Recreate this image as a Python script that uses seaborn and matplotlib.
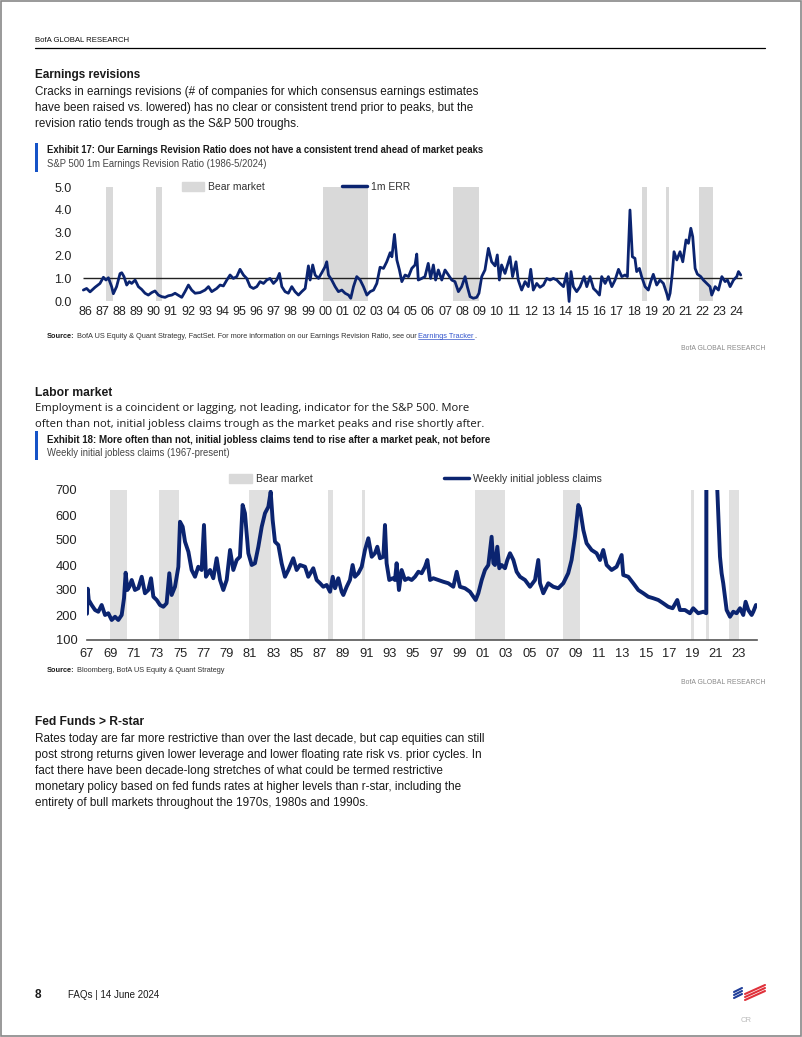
import pandas as pd
import matplotlib
matplotlib.use("Agg")
import matplotlib.pyplot as plt
from matplotlib.lines import Line2D
from matplotlib.patches import Patch, Rectangle
import seaborn as sns

W, H = 802, 1037
NAVY = "#0B2470"
BAND = "#d9d9d9"
TXT = "#1a1a1a"
NARROW = ["Liberation Sans Narrow", "Liberation Sans", "DejaVu Sans"]
WIDE = ["Open Sans", "DejaVu Sans"]

# Exhibit 17: S&P 500 1m earnings revision ratio
err_year = [
    1986.02, 1986.21, 1986.41, 1986.70, 1986.99, 1987.19, 1987.34, 1987.48, 1987.67, 1987.77,
    1987.96, 1988.16, 1988.26, 1988.39, 1988.55, 1988.70, 1988.84, 1989.04, 1989.23, 1989.42,
    1989.62, 1989.81, 1990.01, 1990.20, 1990.40, 1990.59, 1990.79, 1990.98, 1991.18, 1991.37,
    1991.56, 1991.76, 1991.95, 1992.15, 1992.34, 1992.54, 1992.83, 1993.12, 1993.32, 1993.51,
    1993.80, 1994.00, 1994.19, 1994.39, 1994.58, 1994.77, 1994.97, 1995.16, 1995.36, 1995.55,
    1995.75, 1995.94, 1996.14, 1996.33, 1996.53, 1996.72, 1996.91, 1997.11, 1997.30, 1997.46,
    1997.60, 1997.79, 1997.98, 1998.18, 1998.37, 1998.57, 1998.76, 1998.96, 1999.15, 1999.25,
    1999.40, 1999.54, 1999.74, 1999.93, 2000.12, 2000.22, 2000.32, 2000.51, 2000.71, 2000.90,
    2001.10, 2001.29, 2001.49, 2001.62, 2001.78, 2001.97, 2002.17, 2002.36, 2002.56, 2002.75,
    2002.95, 2003.14, 2003.33, 2003.53, 2003.72, 2003.92, 2004.02, 2004.17, 2004.31, 2004.46,
    2004.60, 2004.79, 2004.99, 2005.18, 2005.37, 2005.47, 2005.56, 2005.76, 2005.95, 2006.14,
    2006.28, 2006.44, 2006.57, 2006.73, 2006.93, 2007.12, 2007.32, 2007.51, 2007.70, 2007.90,
    2008.09, 2008.29, 2008.42, 2008.58, 2008.77, 2008.97, 2009.10, 2009.26, 2009.45, 2009.65,
    2009.84, 2010.04, 2010.17, 2010.29, 2010.42, 2010.62, 2010.91, 2011.06, 2011.26, 2011.39,
    2011.59, 2011.79, 2011.98, 2012.12, 2012.27, 2012.47, 2012.66, 2012.86, 2013.05, 2013.25,
    2013.44, 2013.64, 2013.83, 2014.03, 2014.22, 2014.36, 2014.47, 2014.61, 2014.80, 2015.00,
    2015.23, 2015.39, 2015.58, 2015.78, 2015.97, 2016.13, 2016.26, 2016.46, 2016.65, 2016.85,
    2017.04, 2017.24, 2017.43, 2017.62, 2017.76, 2017.91, 2018.05, 2018.20, 2018.30, 2018.46,
    2018.59, 2018.79, 2018.98, 2019.12, 2019.27, 2019.47, 2019.66, 2019.86, 2020.05, 2020.15,
    2020.25, 2020.38, 2020.48, 2020.64, 2020.83, 2020.99, 2021.18, 2021.32, 2021.46, 2021.57,
    2021.71, 2021.84, 2022.04, 2022.19, 2022.39, 2022.58, 2022.68, 2022.88, 2023.07, 2023.27,
    2023.46, 2023.60, 2023.75, 2023.95, 2024.14, 2024.24, 2024.37,
]
err_value = [
    0.48, 0.55, 0.40, 0.60, 0.77, 1.04, 0.92, 1.02, 0.63, 0.32,
    0.63, 1.20, 1.24, 1.07, 0.70, 0.85, 0.77, 0.92, 0.63, 0.51,
    0.34, 0.26, 0.37, 0.44, 0.26, 0.19, 0.16, 0.23, 0.26, 0.34,
    0.25, 0.16, 0.41, 0.70, 0.48, 0.34, 0.37, 0.48, 0.63, 0.41,
    0.55, 0.70, 0.66, 0.92, 1.14, 0.99, 1.07, 1.39, 1.14, 0.99,
    0.63, 0.55, 0.63, 0.85, 0.77, 0.92, 0.99, 0.77, 0.92, 1.21,
    0.63, 0.41, 0.34, 0.63, 0.41, 0.26, 0.41, 0.55, 1.54, 0.92,
    1.58, 1.14, 0.99, 1.24, 1.50, 1.72, 1.14, 0.92, 0.63, 0.41,
    0.48, 0.34, 0.26, 0.12, 0.63, 1.07, 0.92, 0.63, 0.26, 0.41,
    0.48, 0.77, 1.48, 1.43, 1.72, 2.12, 1.94, 2.92, 1.80, 1.36,
    0.85, 1.14, 1.07, 1.43, 1.58, 2.06, 0.92, 0.99, 1.07, 1.65,
    0.99, 1.58, 0.92, 1.36, 0.92, 1.36, 1.14, 0.92, 0.85, 0.41,
    0.63, 1.07, 0.63, 0.19, 0.12, 0.16, 0.34, 1.07, 1.36, 2.31,
    1.72, 1.54, 2.02, 0.92, 1.58, 1.21, 1.94, 1.07, 1.72, 0.92,
    0.48, 0.85, 0.63, 1.39, 0.48, 0.77, 0.60, 0.70, 0.99, 0.92,
    0.99, 0.92, 0.77, 0.63, 1.21, -0.02, 1.29, 0.63, 0.41, 0.63,
    1.07, 0.63, 1.07, 0.55, 0.41, 0.26, 1.07, 0.77, 1.07, 0.63,
    0.92, 1.39, 1.07, 1.14, 1.07, 3.99, 1.94, 1.87, 1.29, 1.43,
    1.07, 0.63, 0.48, 0.85, 1.17, 0.70, 0.92, 0.77, 0.34, 0.07,
    0.34, 1.21, 2.16, 1.80, 2.16, 1.72, 2.68, 2.53, 3.19, 2.82,
    1.43, 1.18, 1.07, 0.92, 0.77, 0.63, 0.26, 0.63, 0.48, 1.07,
    0.85, 0.92, 0.63, 0.92, 1.07, 1.29, 1.14,
]
err_bears = [(1987.34, 1987.77), (1990.28, 1990.59), (2000.00, 2002.65), (2007.60, 2009.10),
             (2018.60, 2018.90), (2019.99, 2020.17), (2021.92, 2022.74)]
err_yticks = [0, 1, 2, 3, 4, 5]
err_ylabels = ["0.0", "1.0", "2.0", "3.0", "4.0", "5.0"]
err_xyears = list(range(1986, 2025))
err_xlabels = ["%02d" % (y % 100) for y in err_xyears]

# Exhibit 18: weekly initial jobless claims, thousands
claims_year = [
    1967.00, 1967.06, 1967.15, 1967.40, 1967.69, 1967.97, 1968.26, 1968.55, 1968.83, 1969.12,
    1969.41, 1969.69, 1969.98, 1970.18, 1970.32, 1970.47, 1970.64, 1970.84, 1971.12, 1971.41,
    1971.70, 1971.98, 1972.27, 1972.50, 1972.70, 1972.99, 1973.27, 1973.56, 1973.84, 1974.07,
    1974.27, 1974.56, 1974.85, 1974.99, 1975.22, 1975.42, 1975.71, 1975.99, 1976.28, 1976.56,
    1976.85, 1977.05, 1977.22, 1977.57, 1977.85, 1978.14, 1978.43, 1978.71, 1979.00, 1979.29,
    1979.57, 1979.86, 1980.14, 1980.37, 1980.57, 1980.86, 1981.15, 1981.43, 1981.72, 1982.01,
    1982.29, 1982.58, 1982.78, 1982.95, 1983.15, 1983.44, 1983.72, 1984.01, 1984.30, 1984.72,
    1985.01, 1985.30, 1985.73, 1986.01, 1986.44, 1986.73, 1987.02, 1987.30, 1987.59, 1987.88,
    1988.11, 1988.31, 1988.59, 1988.88, 1989.02, 1989.31, 1989.59, 1989.82, 1990.02, 1990.31,
    1990.60, 1990.88, 1991.17, 1991.46, 1991.74, 1991.94, 1992.17, 1992.46, 1992.60, 1992.74,
    1992.97, 1993.26, 1993.46, 1993.60, 1993.80, 1994.03, 1994.32, 1994.60, 1994.89, 1995.18,
    1995.47, 1995.75, 1996.04, 1996.24, 1996.47, 1996.75, 1997.18, 1997.61, 1998.04, 1998.47,
    1998.76, 1999.04, 1999.47, 1999.90, 2000.19, 2000.39, 2000.62, 2000.91, 2001.19, 2001.48,
    2001.76, 2001.91, 2002.05, 2002.25, 2002.42, 2002.62, 2002.91, 2003.11, 2003.34, 2003.63,
    2003.91, 2004.20, 2004.63, 2005.06, 2005.49, 2005.77, 2005.92, 2006.20, 2006.63, 2007.06,
    2007.49, 2007.92, 2008.34, 2008.63, 2008.92, 2009.21, 2009.35, 2009.64, 2009.92, 2010.35,
    2010.78, 2011.07, 2011.35, 2011.64, 2012.07, 2012.50, 2012.93, 2013.07, 2013.50, 2013.93,
    2014.36, 2014.79, 2015.22, 2015.65, 2016.08, 2016.50, 2016.93, 2017.31, 2017.71, 2017.94,
    2018.37, 2018.80, 2019.08, 2019.51, 2019.95, 2020.20, 2020.23, 2020.27, 2020.35, 2020.50,
    2020.80, 2021.00, 2021.15, 2021.38, 2021.52, 2021.66, 2021.95, 2022.24, 2022.52, 2022.81,
    2023.10, 2023.38, 2023.58, 2023.81, 2024.10, 2024.24, 2024.47,
]
claims_value = [
    205, 305, 260, 240, 220, 213, 240, 200, 207, 180,
    193, 180, 200, 267, 369, 300, 313, 340, 300, 307,
    353, 287, 300, 347, 273, 260, 240, 233, 247, 367,
    280, 313, 393, 573, 553, 493, 453, 380, 353, 393,
    380, 560, 353, 380, 347, 427, 340, 300, 340, 460,
    380, 420, 433, 640, 607, 447, 400, 407, 473, 553,
    607, 633, 693, 580, 493, 480, 407, 353, 380, 427,
    380, 400, 393, 353, 387, 340, 327, 313, 320, 293,
    353, 307, 347, 293, 280, 313, 340, 400, 353, 367,
    393, 460, 507, 433, 447, 473, 427, 433, 560, 407,
    340, 347, 340, 407, 300, 380, 340, 347, 340, 353,
    373, 367, 393, 420, 340, 347, 340, 333, 327, 313,
    373, 313, 307, 293, 273, 260, 287, 340, 380, 400,
    513, 407, 400, 473, 387, 400, 387, 420, 447, 420,
    373, 353, 340, 313, 340, 420, 327, 287, 327, 313,
    307, 327, 367, 420, 513, 640, 627, 540, 487, 460,
    447, 420, 460, 400, 380, 393, 440, 360, 353, 327,
    300, 287, 273, 267, 260, 247, 233, 227, 260, 220,
    220, 207, 227, 207, 213, 207, 3300, 6900, 3000, 1400,
    800, 850, 700, 433, 367, 327, 220, 193, 213, 207,
    227, 200, 253, 220, 200, 213, 240,
]
claims_bears = [(1968.98, 1970.46), (1973.16, 1974.93), (1980.95, 1982.78), (1987.70, 1988.11),
                (1990.63, 1990.91), (2000.33, 2002.91), (2007.92, 2009.35), (2018.86, 2019.15),
                (2020.18, 2020.41), (2022.15, 2023.00)]
claims_yticks = [100, 200, 300, 400, 500, 600, 700]
claims_xyears = list(range(1967, 2024, 2))
claims_xlabels = ["%02d" % (y % 100) for y in claims_xyears]

sns.set_theme(style="white")
plt.rcParams["font.family"] = NARROW
plt.rcParams["text.color"] = TXT

fig = plt.figure(figsize=(W / 100, H / 100), dpi=100)
fig.patch.set_facecolor("white")

# rows of text whose width should match the page: (texts to scale, texts to measure, target px)
fits = []


def put(x, y, s, size=9, weight="normal", color=TXT, family=NARROW, ha="left"):
    return fig.text(x / W, 1 - y / H, s, fontsize=size, fontweight=weight, color=color,
                    family=family, ha=ha, va="center")


def hline(x0, x1, y, color="black", lw=0.8):
    fig.add_artist(Line2D([x0 / W, x1 / W], [1 - y / H, 1 - y / H], color=color, lw=lw,
                          transform=fig.transFigure))


def rect(x, y, w, h, color):
    fig.add_artist(Rectangle((x / W, 1 - (y + h) / H), w / W, h / H, color=color, lw=0,
                             transform=fig.transFigure))


def chain(ax, first, parts):
    out = [first]
    for s, col in parts:
        out.append(ax.annotate(s, xy=(1, 0), xycoords=out[-1], va="bottom", ha="left",
                               fontsize=first.get_fontsize(), color=col, annotation_clip=False))
    return out


def fit_one(t, target):
    fits.append(([t], [t], target))


# page frame and header
fig.add_artist(Rectangle((0.001, 0.001), 0.998, 0.998, fill=False, edgecolor="#888888", lw=1.2,
                         transform=fig.transFigure))
fit_one(put(35, 41, "BofA GLOBAL RESEARCH", size=6.3, color="#111111"), 95)
hline(35, 765, 48, lw=0.9)

# section 1
fit_one(put(35, 75, "Earnings revisions", size=9.2, weight="bold"), 105)
para1 = [
    "Cracks in earnings revisions (# of companies for which consensus earnings estimates",
    "have been raised vs. lowered) has no clear or consistent trend prior to peaks, but the",
    "revision ratio tends trough as the S&P 500 troughs.",
]
lines = [put(35, 92 + 16 * i, s, size=9) for i, s in enumerate(para1)]
fits.append((lines, lines[:1], 445))

rect(35, 143, 3, 29, "#1553c7")
fit_one(put(47, 150, "Exhibit 17: Our Earnings Revision Ratio does not have a consistent trend "
                     "ahead of market peaks", size=7.8, weight="bold"), 440)
fit_one(put(47, 164, "S&P 500 1m Earnings Revision Ratio (1986-5/2024)", size=7.8, color="#444444"), 222)

ax1 = fig.add_axes([83 / W, 1 - 301 / H, 662 / W, 114 / H])
for a, b in err_bears:
    ax1.axvspan(a, b, color=BAND, lw=0, zorder=0)
ax1.hlines(1.0, err_year[0] - 0.02, err_year[-1] + 0.05, color="#222222", lw=1.0, zorder=1)
df1 = pd.DataFrame({"year": err_year, "err": err_value})
sns.lineplot(data=df1, x="year", y="err", ax=ax1, color=NAVY, lw=2.0, clip_on=False, zorder=3)
ax1.set_xlim(1986.0, 2024.62)
ax1.set_ylim(0, 5)
ax1.set_yticks(err_yticks)
ax1.set_yticklabels(err_ylabels)
ax1.set_xticks([y + 0.12 for y in err_xyears])
ax1.set_xticklabels(err_xlabels)
ax1.tick_params(axis="both", length=0, labelsize=9, colors="#222222")
ax1.tick_params(axis="y", pad=8)
ax1.tick_params(axis="x", pad=3.5)
ax1.set_xlabel("")
ax1.set_ylabel("")
for sp in ax1.spines.values():
    sp.set_visible(False)
ax1.patch.set_alpha(0)

leg_kw = dict(loc="center left", frameon=False, borderpad=0, borderaxespad=0, fontsize=7.5,
              handletextpad=0.4, labelcolor="#333333")
leg = ax1.legend(handles=[Patch(color=BAND, label="Bear market")], bbox_to_anchor=(0.1495, 1.0),
                 handlelength=2.1, handleheight=0.85, **leg_kw)
ax1.add_artist(leg)
ax1.legend(handles=[Line2D([], [], color=NAVY, lw=2.5, label="1m ERR")], bbox_to_anchor=(0.391, 1.0),
           handlelength=2.4, **leg_kw)

src1 = put(47, 337, "Source:", size=5.7, weight="bold")
row = chain(ax1, src1, [(" BofA US Equity & Quant Strategy, FactSet. For more information on our "
                         "Earnings Revision Ratio, see our ", "#333333"),
                        ("Earnings Tracker", "#3355cc"), (".", "#333333")])
link = row[2]
fits.append((row, row, 431))
fit_one(put(765, 348, "BofA GLOBAL RESEARCH", size=5.8, color="#8a8a8a", ha="right"), 83)

# section 2
fit_one(put(35, 393, "Labor market", size=9.2, weight="bold"), 77)
l1 = put(35, 409, "Employment is a coincident or lagging, not leading, indicator for the S&P 500. More",
         size=8.3, family=WIDE)
l2 = put(35, 424, "often than not, initial jobless claims trough as the market peaks and rise shortly after.",
         size=8.3, family=WIDE)
fits.append(([l1, l2], [l2], 448))
rect(35, 431, 3, 29, "#1553c7")
fit_one(put(47, 440, "Exhibit 18: More often than not, initial jobless claims tend to rise after a "
                     "market peak, not before", size=7.8, weight="bold"), 446)
fit_one(put(47, 453, "Weekly initial jobless claims (1967-present)", size=7.8, color="#444444"), 185)

ax2 = fig.add_axes([87 / W, 1 - 640 / H, 670 / W, 150 / H])
for a, b in claims_bears:
    ax2.axvspan(a, b, color="#e0e0e0", lw=0, zorder=0)
df2 = pd.DataFrame({"year": claims_year, "claims": claims_value})
sns.lineplot(data=df2, x="year", y="claims", ax=ax2, color=NAVY, lw=2.8, zorder=3)
ax2.set_xlim(1967.0, 2024.56)
ax2.set_ylim(100, 700)
ax2.set_yticks(claims_yticks)
ax2.set_yticklabels([str(v) for v in claims_yticks])
ax2.set_xticks(claims_xyears)
ax2.set_xticklabels(claims_xlabels)
ax2.tick_params(axis="both", length=0, labelsize=9.3, colors="#222222")
ax2.tick_params(axis="y", pad=7)
ax2.tick_params(axis="x", pad=6)
ax2.set_xlabel("")
ax2.set_ylabel("")
for name, sp in ax2.spines.items():
    sp.set_visible(name == "bottom")
ax2.spines["bottom"].set_color("#555555")
ax2.spines["bottom"].set_linewidth(1.2)
ax2.patch.set_alpha(0)

leg = ax2.legend(handles=[Patch(color="#d9d9d9", label="Bear market")], bbox_to_anchor=(0.212, 1.073),
                 handlelength=2.2, handleheight=0.85, **leg_kw)
ax2.add_artist(leg)
ax2.legend(handles=[Line2D([], [], color=NAVY, lw=2.5, label="Weekly initial jobless claims")],
           bbox_to_anchor=(0.533, 1.073), handlelength=2.4, **leg_kw)

src2 = put(47, 670, "Source:", size=5.7, weight="bold")
row = chain(ax2, src2, [(" Bloomberg, BofA US Equity & Quant Strategy", "#333333")])
fits.append((row, row, 179))
fit_one(put(765, 682, "BofA GLOBAL RESEARCH", size=5.8, color="#8a8a8a", ha="right"), 83)

# section 3
fit_one(put(35, 722, "Fed Funds > R-star", size=9.2, weight="bold"), 109)
para3 = [
    "Rates today are far more restrictive than over the last decade, but cap equities can still",
    "post strong returns given lower leverage and lower floating rate risk vs. prior cycles. In",
    "fact there have been decade-long stretches of what could be termed restrictive",
    "monetary policy based on fed funds rates at higher levels than r-star, including the",
    "entirety of bull markets throughout the 1970s, 1980s and 1990s.",
]
lines = [put(35, 739 + 16 * i, s, size=9) for i, s in enumerate(para3)]
fits.append((lines, lines[:1], 456))

# footer
put(35, 995, "8", size=8.5, weight="bold")
fit_one(put(68, 995, "FAQs | 14 June 2024", size=8.5), 92)
put(741, 1021, "CR", size=5.5, color="#bbbbbb")
for i in range(3):
    fig.add_artist(Line2D([734 / W, 742 / W], [1 - (992 + 3 * i) / H, 1 - (988 + 3 * i) / H],
                          color="#1f3d99", lw=1.5, transform=fig.transFigure))
    fig.add_artist(Line2D([745 / W, 765 / W], [1 - (994 + 3 * i) / H, 1 - (985 + 3 * i) / H],
                          color="#e0313a", lw=1.5, transform=fig.transFigure))

# scale text rows so their widths match the page
fig.canvas.draw()
r = fig.canvas.get_renderer()
for scaled, measured, target in fits:
    boxes = [t.get_window_extent(r) for t in measured]
    k = target / (max(b.x1 for b in boxes) - min(b.x0 for b in boxes))
    for t in scaled:
        t.set_fontsize(t.get_fontsize() * k)

# underline the link text
fig.canvas.draw()
bb = link.get_window_extent()
fig.add_artist(Line2D([bb.x0 / W, bb.x1 / W], [(bb.y0 + 1.5) / H, (bb.y0 + 1.5) / H],
                      color="#3355cc", lw=0.5, transform=fig.transFigure))

fig.savefig("out.png", dpi=100, facecolor="white")
